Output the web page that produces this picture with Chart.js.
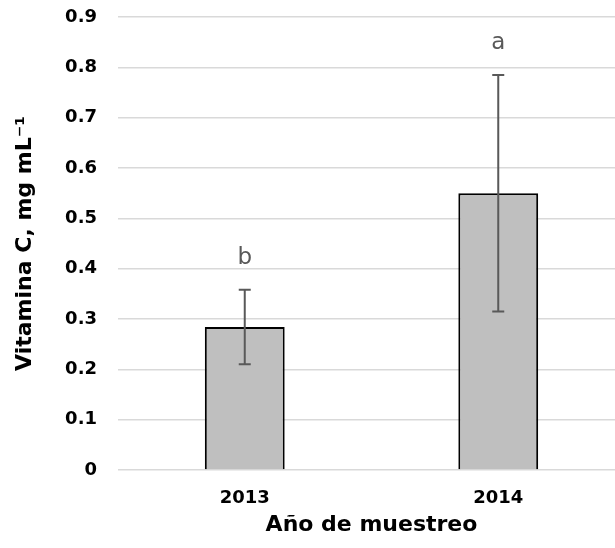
<!DOCTYPE html>
<html>
<head>
<meta charset="utf-8">
<script src="https://cdn.jsdelivr.net/npm/chart.js@4/dist/chart.umd.min.js"></script>
<style>
  html, body { margin: 0; padding: 0; background: #fff; overflow: hidden; }
  #wrap { width: 625px; height: 548px; }
</style>
</head>
<body>
<div id="wrap"><canvas id="chart" width="625" height="548"></canvas></div>
<script>
const YEARS = ['2013', '2014'];
const VITAMINA_C = [0.284, 0.55];
const ERROR = [0.074, 0.235];
const LETTERS = ['b', 'a'];
const Y_TICKS = [0, 0.1, 0.2, 0.3, 0.4, 0.5, 0.6, 0.7, 0.8, 0.9];

const FONT = 'DejaVu Sans';

// error bars + significance letters on top of the bars
const errorBars = {
  id: 'errorBars',
  afterDatasetsDraw(chart) {
    const { ctx, scales: { x, y } } = chart;
    ctx.save();
    ctx.strokeStyle = '#595959';
    ctx.lineWidth = 2;
    VITAMINA_C.forEach((v, i) => {
      const cx = x.getPixelForValue(i);
      const top = y.getPixelForValue(v + ERROR[i]);
      const bot = y.getPixelForValue(v - ERROR[i]);
      ctx.beginPath();
      ctx.moveTo(cx, top); ctx.lineTo(cx, bot);
      ctx.moveTo(cx - 6, top); ctx.lineTo(cx + 6, top);
      ctx.moveTo(cx - 6, bot); ctx.lineTo(cx + 6, bot);
      ctx.stroke();
    });
    ctx.fillStyle = '#595959';
    ctx.font = `23px "${FONT}"`;
    ctx.textAlign = 'center';
    ctx.textBaseline = 'alphabetic';
    LETTERS.forEach((l, i) => {
      const cx = x.getPixelForValue(i);
      const top = y.getPixelForValue(VITAMINA_C[i] + ERROR[i]);
      ctx.fillText(l, cx, top - 26);
    });
    ctx.restore();
  }
};

new Chart(document.getElementById('chart'), {
  type: 'bar',
  data: {
    labels: YEARS,
    datasets: [{
      data: VITAMINA_C,
      backgroundColor: '#bfbfbf',
      borderColor: '#000',
      borderWidth: 2,
      barPercentage: 0.315,
      categoryPercentage: 1
    }]
  },
  options: {
    responsive: false,
    animation: false,
    layout: { padding: { top: 17, right: 0, bottom: 0, left: 0 } },
    plugins: { legend: { display: false }, tooltip: { enabled: false } },
    scales: {
      x: {
        grid: { display: false },
        border: { display: false },
        ticks: { color: '#000', padding: 10, font: { family: FONT, size: 18, weight: 'bold' } },
        title: {
          display: true,
          text: 'Año de muestreo',
          color: '#000',
          font: { family: FONT, size: 22, weight: 'bold' },
          padding: { top: 0, bottom: 10 }
        },
        afterFit(scale) { scale.height = 78; }
      },
      y: {
        min: 0,
        max: 0.9,
        afterBuildTicks(scale) { scale.ticks = Y_TICKS.map(v => ({ value: v })); },
        grid: { color: '#d9d9d9', lineWidth: 1.5, drawTicks: false },
        border: { display: false },
        ticks: {
          color: '#000',
          padding: 21,
          font: { family: FONT, size: 18, weight: 'bold' },
          callback: v => String(Math.round(v * 10) / 10)
        },
        title: {
          display: true,
          text: 'Vitamina C, mg mL⁻¹',
          color: '#000',
          font: { family: FONT, size: 22, weight: 'bold' },
          padding: { top: 12, bottom: 0 }
        },
        afterFit(scale) {
          scale.width = 118;
          scale.paddingTop = 0;
          scale.paddingBottom = 0;
        }
      }
    }
  },
  plugins: [errorBars]
});
</script>
</body>
</html>
